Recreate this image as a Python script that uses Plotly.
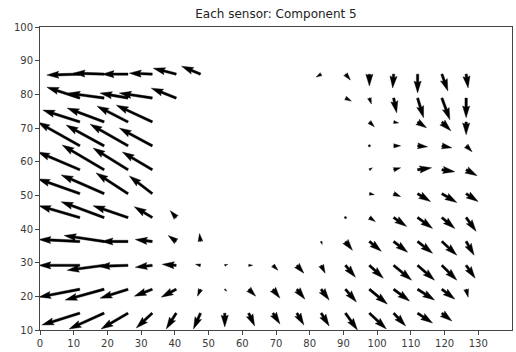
import math
import plotly.graph_objects as go

TITLE = "Each sensor: Component 5"

# Sensor positions: columns west -> east, rows north -> south
SENSOR_X = [11.8, 19.0, 26.1, 33.3, 40.4, 47.6, 54.8, 61.9, 69.1,
            76.2, 83.4, 90.6, 97.7, 104.9, 112.0, 119.2, 126.4]
SENSOR_Y = [86.0, 78.9, 71.8, 64.7, 57.6, 50.5, 43.4, 36.3, 29.2, 22.1, 15.0]

N = None  # no sensor at this grid position

# Component 5 vector field, east (U) and north (V) components, one list per row
U_ROWS = [
    [-33, -31, -26, -23, -23, -19, N, N, N, N, -5, 5, 0, -1, 0, 6, 2],
    [-33, -36, -28, -33, -25, N, N, N, N, N, N, 6, 2, 3, 6, 8, 0],
    [-37, -37, -31, -36, N, N, N, N, N, N, N, N, 5, 5, 9, 9, 0],
    [-42, -38, -38, -33, N, N, N, N, N, N, N, N, 1, 7, 10, 10, 6],
    [-42, -42, -35, -30, N, N, N, N, N, N, N, N, 3, 7, 14, 13, 11],
    [-42, -43, -32, -23, N, N, N, N, N, N, N, N, 5, 7, 13, 15, 12],
    [-41, -43, -35, -18, -6, N, N, N, N, N, N, 1, 6, 13, 15, 13, 10],
    [-41, -40, -27, -17, -8, -1, N, N, N, N, 1, 7, 12, 14, 15, 15, 8],
    [-41, -37, -30, -17, -14, -5, 3, 4, 5, 7, 4, 10, 14, 18, 17, 15, 9],
    [-41, -39, -28, -18, -15, -3, 2, 7, 7, 8, 8, 11, 18, 16, 17, 13, 2],
    [-38, -35, -27, -16, -10, -7, 0, 6, 7, 7, 8, 12, 17, 12, 15, 10, N],
]
V_ROWS = [
    [-1, 1, 0, 1, 6, 8, N, N, N, N, -3, -6, -12, -14, -19, -17, -14],
    [11, 5, 5, 5, 10, N, N, N, N, N, N, -3, -6, -15, -20, -22, -20],
    [12, 14, 16, 17, N, N, N, N, N, N, N, N, -5, -1, -6, -9, -13],
    [24, 21, 22, 18, N, N, N, N, N, N, N, N, 0, 0, -1, -2, -6],
    [18, 25, 22, 18, N, N, N, N, N, N, N, N, 2, 2, 2, -2, -6],
    [15, 19, 21, 18, N, N, N, N, N, N, N, N, -1, -3, -8, -9, -8],
    [12, 16, 12, 11, 7, N, N, N, N, N, N, -1, -4, -9, -11, -11, -14],
    [2, 6, 0, 2, 6, 8, N, N, N, N, -3, -9, -10, -11, -12, -14, -14],
    [0, -5, -1, -2, 1, 1, 1, 0, -5, -8, -8, -12, -13, -15, -15, -15, -13],
    [-8, -11, -9, -7, -8, -7, -2, -7, -9, -10, -11, -13, -15, -12, -11, -10, -8],
    [-12, -16, -16, -15, -16, -16, -14, -13, -11, -12, -13, -17, -16, -13, -10, -8, N],
]

X_TICKS = [0, 10, 20, 30, 40, 50, 60, 70, 80, 90, 100, 110, 120, 130]
Y_TICKS = [10, 20, 30, 40, 50, 60, 70, 80, 90, 100]
X_RANGE = [0, 140]
Y_RANGE = [10, 100]

# Figure geometry
FIG_W, FIG_H = 516, 352
M_L, M_R, M_T, M_B = 40, 3, 27, 18
PX_PER_X = (FIG_W - M_L - M_R) / (X_RANGE[1] - X_RANGE[0])
PX_PER_Y = (FIG_H - M_T - M_B) / (Y_RANGE[1] - Y_RANGE[0])

# Quiver arrow style (in shaft widths, matplotlib-like)
QUIVER_SCALE = 1.0      # pixels per vector unit
SHAFT_W = 2.4           # px
HEAD_W, HEAD_L, HEAD_AL = 3.0, 5.0, 4.5
MIN_SHAFT, MIN_LENGTH = 1.0, 1.0


def arrow_outline(length_px):
    """Arrow polygon in its own frame (x along the vector), in pixels."""
    l = length_px / SHAFT_W
    if l < MIN_LENGTH:
        pts = [(math.cos(t * math.pi / 3) * MIN_LENGTH * 0.5,
                math.sin(t * math.pi / 3) * MIN_LENGTH * 0.5) for t in range(7)]
    else:
        minsh = MIN_SHAFT * HEAD_L
        if l < minsh:
            s = l / minsh
            xs = [0, minsh - HEAD_AL, minsh - HEAD_L, minsh]
            ys = [0.5, 0.5, HEAD_W / 2, 0]
            xs = [v * s for v in xs]
            ys = [v * s for v in ys]
        else:
            xs = [0, l - HEAD_AL, l - HEAD_L, l]
            ys = [0.5, 0.5, HEAD_W / 2, 0]
        order = [0, 1, 2, 3, 2, 1, 0, 0]
        pts = []
        for i, idx in enumerate(order):
            y = ys[idx] if i < 3 or i == 7 else -ys[idx]
            pts.append((xs[idx], y))
    return [(x * SHAFT_W, y * SHAFT_W) for x, y in pts]


px, py = [], []
for j, y0 in enumerate(SENSOR_Y):
    for k, x0 in enumerate(SENSOR_X):
        u, v = U_ROWS[j][k], V_ROWS[j][k]
        if u is None or v is None:
            continue
        ue, vn = u * QUIVER_SCALE, v * QUIVER_SCALE
        length = math.hypot(ue, vn)
        ang = math.atan2(vn, ue)
        ca, sa = math.cos(ang), math.sin(ang)
        for ax_, ay_ in arrow_outline(length):
            ex = ax_ * ca - ay_ * sa
            ny = ax_ * sa + ay_ * ca
            px.append(x0 + ex / PX_PER_X)
            py.append(y0 + ny / PX_PER_Y)
        px.append(None)
        py.append(None)

fig = go.Figure()
fig.add_trace(go.Scatter(
    x=px, y=py, mode="lines", fill="toself",
    fillcolor="black", line=dict(color="black", width=0.4),
    hoverinfo="skip", showlegend=False,
))

axis_common = dict(
    showgrid=False, zeroline=False, showline=True, mirror=True,
    linecolor="#444444", linewidth=1,
    ticks="outside", ticklen=4, tickwidth=1, tickcolor="#444444",
    tickfont=dict(family="DejaVu Sans", size=10, color="#3a3a3a"),
)

fig.update_layout(
    width=FIG_W, height=FIG_H,
    margin=dict(l=M_L, r=M_R, t=M_T, b=M_B, pad=0),
    paper_bgcolor="white", plot_bgcolor="white",
    title=dict(text=TITLE, x=0.5, xref="paper", xanchor="center",
               y=1 - 14 / FIG_H, yref="container", yanchor="middle",
               font=dict(family="DejaVu Sans", size=12, color="#222222")),
    xaxis=dict(range=X_RANGE, tickvals=X_TICKS, **axis_common),
    yaxis=dict(range=Y_RANGE, tickvals=Y_TICKS, **axis_common),
)

fig.write_html("out.html")
